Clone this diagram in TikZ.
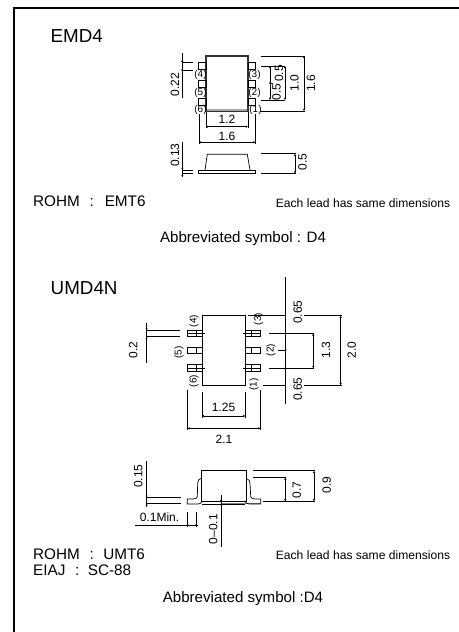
\documentclass[tikz,border=0pt]{standalone}
\usepackage{fontspec}
\setmainfont{Liberation Sans}
\usetikzlibrary{arrows.meta}
\tikzset{
  ln/.style={line width=0.7pt,black},
  thk/.style={line width=1.2pt,black!80},
  dimn/.style={line width=0.7pt,black,{Latex[length=2.2pt,width=2.4pt]}-{Latex[length=2.2pt,width=2.4pt]}},
  tx/.style={inner sep=0pt,font=\fontsize{#1}{#1}\selectfont,text=black},
  lab/.style={tx=12},
  rlab/.style={tx=12,rotate=90},
  pin/.style={tx=10},
  rpin/.style={tx=10,rotate=90},
}
\begin{document}
\begin{tikzpicture}[x=1pt,y=-1pt]
\useasboundingbox (0,0) rectangle (458,632);
\fill[white] (0,0) rectangle (458,632);
\draw[line width=2pt] (13.5,640) -- (13.5,8) -- (470,8);
% ---------- EMD4 ----------
\node[tx=18.8,anchor=west] (t1) at (50.5,36) {EMD4};
\fill[gray!70] (206,109) rectangle (248,111.5);
\draw[thk] (206,56) rectangle (248,111.5);
\foreach \y in {62.7,80.7,98.3}{
 \draw[ln] (198.3,\y) rectangle (206,\y+6.6);
 \draw[ln] (248,\y) rectangle (255,\y+6.6);
}
\foreach \n/\x/\y in {4/200.5/75,5/200.5/92.5,6/200.5/109.5,3/254.5/74.5,2/254.5/92.5,1/255.5/110}
  \node[pin] (p\n) at (\x,\y) {(\n)};
% 0.22
\draw[ln] (182.3,53) -- (182.3,97.5);
\draw[ln] (182.3,62.3) -- (193.3,62.3);
\draw[ln] (182.3,70) -- (193.3,70);
\fill (182.3,61.5) circle (1.1pt) (182.3,70) circle (1.1pt);
\node[rlab] (a22) at (175,84.7) {0.22};
% right dims
\draw[ln] (261,56) -- (305,56);
\draw[ln] (260,111) -- (305,111);
\draw[dimn] (304,56) -- (304,111);
\node[rlab] (a16v) at (311,83.5) {1.6};
\draw[ln] (261,66) -- (285,66);
\draw[ln] (261,100) -- (285,100);
\draw[dimn] (285,66) -- (285,100);
\node[rlab] (a10) at (294.5,83) {1.0};
\draw[dimn] (270,66) -- (270,100);
\draw[ln] (270,83) -- (272.5,83);
\fill (270,83) circle (1pt);
\node[rlab] (a05a) at (279,73.5) {0.5};
\node[rlab] (a05b) at (276.5,92) {0.5};
% lower dims
\draw[ln] (206,112) -- (206,128);
\draw[ln] (248,112) -- (248,128);
\draw[dimn] (206,126.7) -- (248,126.7);
\node[lab] (a12) at (227,119.5) {1.2};
\draw[ln] (199,114) -- (199,143.5);
\draw[ln] (255.3,114) -- (255.3,143.5);
\draw[dimn] (199,142.3) -- (255.3,142.3);
\node[lab] (a16) at (227,136) {1.6};
% side view
\draw[ln] (205,170) -- (207.3,154.3) -- (247.3,154.3) -- (250,170);
\draw[ln] (198.3,170) rectangle (255.3,173.7);
\draw[ln] (205,170) -- (250,170);
\draw[ln] (182.3,141.7) -- (182.3,176.7);
\draw[ln] (182.3,170) -- (193.3,170);
\draw[ln] (182.3,173.7) -- (193.3,173.7);
\fill (182.3,168.5) circle (1pt) (182.3,175.5) circle (1pt);
\node[rlab] (a13) at (175,155) {0.13};
\draw[ln] (261,153.7) -- (296,153.7);
\draw[ln] (261,173.7) -- (296,173.7);
\draw[dimn] (295,153.7) -- (295,173.7);
\node[rlab] (a05c) at (302.5,162) {0.5};
% texts
\node[tx=15.3,anchor=west] (r1) at (33,201.5) {ROHM\hspace{9.6pt}:\hspace{11pt}EMT6};
\node[tx=12.1] (e1) at (363,203) {Each lead has same dimensions};
\node[tx=15.1] (s1) at (243,239) {Abbreviated symbol : D4};
% ---------- UMD4N ----------
\node[tx=18.8,anchor=west] (t2) at (50.5,288) {UMD4N};
\draw[ln] (202,315.7) rectangle (245.3,385.3);
\foreach \y in {330,347.3,364.7}{
 \draw[ln] (187.7,\y) rectangle (202,\y+6.5);
 \draw[ln] (196.7,\y) -- (196.7,\y+6.5);
 \draw[ln] (245.3,\y) rectangle (260,\y+6.5);
 \draw[ln] (251,\y) -- (251,\y+6.5);
}
\draw[ln] (188,333.3) -- (205,333.3);
\draw[ln] (188,367.9) -- (205,367.9);
\draw[ln] (242.7,333.3) -- (260,333.3);
\draw[ln] (242.7,367.9) -- (260,367.9);
\node[rpin] (q4) at (194,321) {(4)};
\node[rpin] (q3) at (258.5,319) {(3)};
\node[rpin] (q5) at (179,352.3) {(5)};
\node[rpin] (q2) at (271,350) {(2)};
\node[rpin] (q6) at (194,381) {(6)};
\node[rpin] (q1) at (254,384.3) {(1)};
% 0.2
\draw[ln] (146.7,322.7) -- (146.7,363);
\draw[ln] (146.7,330) -- (180,330);
\draw[ln] (146.7,336.7) -- (180,336.7);
\fill (146.7,328.7) circle (1pt) (146.7,338) circle (1pt);
\node[rlab] (b02) at (133.3,350) {0.2};
% right
\draw[ln] (285.7,277.3) -- (285.7,404);
\draw[ln] (248,315.7) -- (285.7,315.7) (304.3,315.7) -- (342,315.7);
\draw[ln] (262.7,385.3) -- (285.7,385.3) (304.3,385.3) -- (342,385.3);
\draw[dimn] (340.7,315.7) -- (340.7,385.3);
\node[rlab] (b20) at (351.7,350) {2.0};
\draw[ln] (269.3,333.3) -- (314.3,333.3);
\draw[ln] (269.3,368.3) -- (314.3,368.3);
\draw[dimn] (313.3,333.3) -- (313.3,368.3);
\node[rlab] (b13) at (326,350) {1.3};
\draw[ln] (278.3,350) -- (285.7,350);
\fill (285.7,333.3) circle (1pt) (285.7,350) circle (1pt) (285.7,368.3) circle (1pt);
\node[rlab] (b65a) at (297.7,312.3) {0.65};
\node[rlab] (b65b) at (297.7,389) {0.65};
% bottom
\draw[ln] (202,392.3) -- (202,418.3);
\draw[ln] (245.3,392.3) -- (245.3,418.3);
\draw[dimn] (202,416) -- (245.3,416);
\node[lab] (b125) at (223.5,407) {1.25};
\draw[ln] (187.7,390) -- (187.7,430);
\draw[ln] (260.3,390) -- (260.3,430);
\draw[dimn] (187.7,428.3) -- (260.3,428.3);
\node[lab] (b21) at (224,439) {2.1};
% side view
\draw[ln] (201.7,470.7) rectangle (246,501.7);
\draw[gray,line width=0.9pt] (222,503.5) -- (260,503.5);
\draw[ln] (201.7,478.3) .. controls (198.5,479) and (197.7,481) .. (197.7,483.3) -- (197.3,496.7) .. controls (197.3,498) and (195.5,499) .. (193.3,499) -- (187.3,499) -- (187.3,504) -- (198.3,504) .. controls (200,504) and (201,503) .. (201.7,501.7);
\draw[ln] (246,478.3) .. controls (249,479) and (250,481) .. (250,483.3) -- (250.7,496.7) .. controls (251,498) and (253,499) .. (255,499) -- (260.7,499) -- (260.7,504) -- (249.3,504) .. controls (247.5,504) and (246,503) .. (245,501.7);
\draw[ln] (201.7,504) -- (245,504);
% 0.15
\draw[ln] (146.7,460.7) -- (146.7,507);
\draw[ln] (146.7,497.3) -- (180.7,497.3);
\draw[ln] (146.7,503.7) -- (180.7,503.7);
\fill (146.7,496) circle (1pt) (146.7,505) circle (1pt);
\node[rlab] (b15) at (138.3,476) {0.15};
% 0.1Min
\node[lab] (bmin) at (159.5,517.5) {0.1Min.};
\draw[ln] (135,525) -- (197.7,525);
\draw[ln] (187.7,511.7) -- (187.7,526.5);
\draw[ln] (196,511.7) -- (196,526.5);
\fill (187.7,525) circle (1pt) (196,525) circle (1pt);
% 0-0.1
\draw[ln] (221,495) -- (221,546.7);
\fill (221,500.5) circle (1pt) (221,504.5) circle (1pt);
\node[rlab] (b01) at (213.3,529.3) {0--0.1};
% right dims
\draw[ln] (252.7,470.7) -- (315,470.7);
\draw[ln] (263.3,501.3) -- (315,501.3);
\draw[dimn] (314,470.7) -- (314,501.3);
\node[rlab] (b09) at (326.7,485) {0.9};
\draw[ln] (252.7,477.3) -- (286,477.3);
\draw[dimn] (285.3,477.3) -- (285.3,501.3);
\node[rlab] (b07) at (296.7,490) {0.7};
% texts
\node[tx=15.3,anchor=west] (r2) at (33,554) {ROHM\hspace{9.6pt}:\hspace{9.5pt}UMT6};
\node[tx=15.3,anchor=west] (r3) at (33,570) {EIAJ\hspace{9.6pt}:\hspace{8.5pt}SC-88};
\node[tx=12.1] (e2) at (363,555) {Each lead has same dimensions};
\node[tx=15.1] (s2) at (243,599) {Abbreviated symbol :D4};
\end{tikzpicture}
\end{document}
